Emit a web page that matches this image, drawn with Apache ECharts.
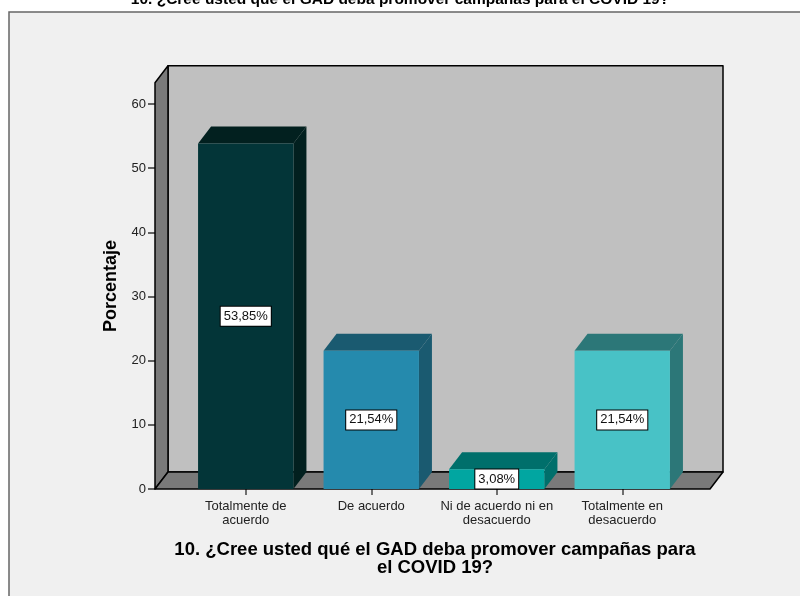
<!DOCTYPE html>
<html>
<head>
<meta charset="utf-8">
<script src="https://cdn.jsdelivr.net/npm/echarts@6/dist/echarts.min.js"></script>
<style>
  html, body { margin: 0; padding: 0; background: #ffffff; }
  #chart { width: 800px; height: 596px; }
</style>
</head>
<body>
<div id="chart"></div>
<script>
var questionTitle = '10. ¿Cree usted qué el GAD deba promover campañas para el COVID 19?';
var axisTitle = '10. ¿Cree usted qué el GAD deba promover campañas para\nel COVID 19?';
var categories = ['Totalmente de\nacuerdo', 'De acuerdo', 'Ni de acuerdo ni en\ndesacuerdo', 'Totalmente en\ndesacuerdo'];
var values = [53.85, 21.54, 3.08, 21.54];
var valueLabels = ['53,85%', '21,54%', '3,08%', '21,54%'];
var frontColors = ['#033538', '#258aad', '#01a6a1', '#48c2c6'];
var topColors = ['#02201f', '#1a5a70', '#006f6b', '#2c7778'];
var wallTop = 63.3; // value reached by the left/back wall

var DX = 13, DY = -17;       // depth of the 3D walls and bars
var EXT_L = 28, EXT_R = 25;  // floor extension beyond the category band
var FONT = 'Arial, "Liberation Sans", sans-serif';

var chart = echarts.init(document.getElementById('chart'));

function renderFrame(params, api) {
    var cs = params.coordSys;
    var y0 = api.coord([0, 0])[1];
    var yt = api.coord([0, wallTop])[1];
    var xl = cs.x - EXT_L;
    var xr = cs.x + cs.width + EXT_R;
    var edge = { stroke: '#000', lineWidth: 1.5, lineJoin: 'round' };
    return {
        type: 'group',
        children: [
            { type: 'polygon', shape: { points: [[xl + DX, yt + DY], [xr + DX, yt + DY], [xr + DX, y0 + DY], [xl + DX, y0 + DY]] },
              style: Object.assign({ fill: '#c0c0c0' }, edge) },
            { type: 'polygon', shape: { points: [[xl, yt], [xl + DX, yt + DY], [xl + DX, y0 + DY], [xl, y0]] },
              style: Object.assign({ fill: '#7a7a7a' }, edge) },
            { type: 'polygon', shape: { points: [[xl, y0], [xl + DX, y0 + DY], [xr + DX, y0 + DY], [xr, y0]] },
              style: Object.assign({ fill: '#7a7a7a' }, edge) }
        ]
    };
}

function renderBar(params, api) {
    var i = api.value(0);
    var top = api.coord([i, api.value(1)]);
    var base = api.coord([i, 0]);
    var w = api.size([1, 0])[0] * 0.76;
    var x = top[0] - w / 2;
    var yT = top[1], yB = base[1];
    var idx = params.dataIndex;
    return {
        type: 'group',
        children: [
            { type: 'polygon', shape: { points: [[x + w, yT], [x + w + DX, yT + DY], [x + w + DX, yB + DY], [x + w, yB]] },
              style: { fill: topColors[idx] } },
            { type: 'polygon', shape: { points: [[x, yT], [x + DX, yT + DY], [x + w + DX, yT + DY], [x + w, yT]] },
              style: { fill: topColors[idx] } },
            { type: 'rect', shape: { x: x, y: yT, width: w, height: yB - yT },
              style: { fill: frontColors[idx] } },
            { type: 'text', x: top[0], y: (yT + yB) / 2,
              style: { text: valueLabels[idx], align: 'center', verticalAlign: 'middle',
                       font: '13px ' + FONT, fill: '#111',
                       backgroundColor: '#fff', borderColor: '#000', borderWidth: 1,
                       padding: [4, 3, 2, 3] } }
        ]
    };
}

var option = {
    backgroundColor: '#ffffff',
    animation: false,
    graphic: [
        { type: 'rect', z: -10, shape: { x: 9, y: 12, width: 800, height: 600 },
          style: { fill: '#f0f0f0', stroke: '#666', lineWidth: 1.5 } },
        { type: 'text', x: 400, y: 0, z: 5,
          style: { text: questionTitle, align: 'center', verticalAlign: 'middle',
                   font: 'bold 15.5px ' + FONT, fill: '#000' } },
        { type: 'text', x: 111, y: 286, rotation: Math.PI / 2, z: 5,
          style: { text: 'Porcentaje', align: 'center', verticalAlign: 'middle',
                   font: 'bold 18px ' + FONT, fill: '#000' } },
        { type: 'text', x: 435, y: 559, z: 5,
          style: { text: axisTitle, align: 'center', verticalAlign: 'middle', lineHeight: 18,
                   font: 'bold 18.5px ' + FONT, fill: '#000' } }
    ],
    grid: { left: 183, right: 115, top: 104, bottom: 107 },
    xAxis: {
        type: 'category',
        data: categories,
        axisLine: { show: false },
        axisTick: { show: true, alignWithLabel: true, length: 6, lineStyle: { color: '#444', width: 1.5 } },
        axisLabel: { interval: 0, margin: 10, color: '#222', fontSize: 13, fontFamily: FONT, lineHeight: 14 },
        splitLine: { show: false }
    },
    yAxis: {
        type: 'value',
        min: 0,
        max: 60,
        interval: 10,
        offset: 28,
        axisLine: { show: false },
        axisTick: { show: true, length: 7, lineStyle: { color: '#333', width: 1.5 } },
        axisLabel: { margin: 9, color: '#222', fontSize: 13, fontFamily: FONT },
        splitLine: { show: false }
    },
    series: [
        {
            type: 'custom',
            z: 1,
            clip: false,
            renderItem: renderFrame,
            data: [[0, 0]],
            silent: true
        },
        {
            type: 'custom',
            z: 2,
            clip: false,
            renderItem: renderBar,
            encode: { x: 0, y: 1 },
            data: values.map(function (v, i) { return [i, v]; })
        }
    ]
};

chart.setOption(option);
</script>
</body>
</html>
